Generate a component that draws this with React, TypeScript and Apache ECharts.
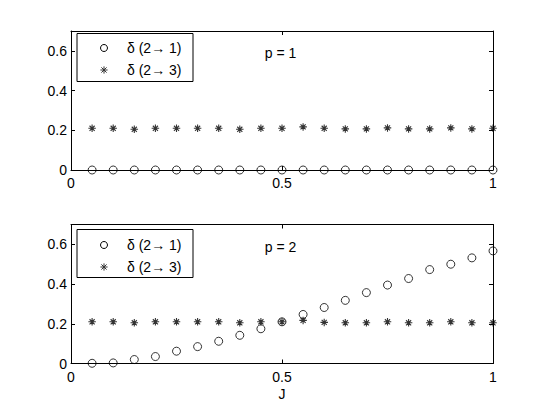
import React, { useEffect, useRef } from "react";
import * as echarts from "echarts";

const J = [0.05, 0.1, 0.15, 0.2, 0.25, 0.3, 0.35, 0.4, 0.45, 0.5, 0.55, 0.6, 0.65, 0.7, 0.75, 0.8, 0.85, 0.9, 0.95, 1.0];

const p1_21 = [0, 0, 0, 0, 0, 0, 0, 0, 0, 0, 0, 0, 0, 0, 0, 0, 0, 0, 0, 0];
const p1_23 = [0.21, 0.21, 0.205, 0.21, 0.21, 0.21, 0.21, 0.205, 0.21, 0.21, 0.217, 0.21, 0.207, 0.207, 0.212, 0.207, 0.207, 0.212, 0.207, 0.21];

const p2_21 = [0.001, 0.003, 0.02, 0.035, 0.062, 0.085, 0.112, 0.142, 0.175, 0.21, 0.247, 0.282, 0.318, 0.357, 0.395, 0.428, 0.473, 0.5, 0.532, 0.567];
const p2_23 = [0.21, 0.21, 0.205, 0.21, 0.21, 0.21, 0.21, 0.205, 0.21, 0.21, 0.217, 0.207, 0.205, 0.205, 0.21, 0.205, 0.205, 0.21, 0.205, 0.205];

const NAME_21 = "δ (2→ 1)";
const NAME_23 = "δ (2→ 3)";
const PANEL_LABELS = ["p = 1", "p = 2"];

const FONT = "'Liberation Sans', Arial, Helvetica, sans-serif";
const FS = 14;
const STAR = "path://M5,0L5,10M0,5L10,5M1.6,1.6L8.4,8.4M1.6,8.4L8.4,1.6";

function legendGraphic(top: number, rows: [number, number]) {
  const r = 3.5;
  const d = 3.6;
  const dd = 2.6;
  const starColor = "#333";
  return {
    type: "group",
    children: [
      {
        type: "rect",
        shape: { x: 77, y: top, width: 116, height: 48 },
        style: { fill: "#fff", stroke: "#000", lineWidth: 1 },
        z: 10,
      },
      {
        type: "circle",
        shape: { cx: 104, cy: rows[0], r },
        style: { fill: "none", stroke: "#000", lineWidth: 1 },
        z: 11,
      },
      { type: "line", shape: { x1: 104 - d, y1: rows[1], x2: 104 + d, y2: rows[1] }, style: { stroke: starColor, lineWidth: 1 }, z: 11 },
      { type: "line", shape: { x1: 104, y1: rows[1] - d, x2: 104, y2: rows[1] + d }, style: { stroke: starColor, lineWidth: 1 }, z: 11 },
      { type: "line", shape: { x1: 104 - dd, y1: rows[1] - dd, x2: 104 + dd, y2: rows[1] + dd }, style: { stroke: starColor, lineWidth: 1 }, z: 11 },
      { type: "line", shape: { x1: 104 - dd, y1: rows[1] + dd, x2: 104 + dd, y2: rows[1] - dd }, style: { stroke: starColor, lineWidth: 1 }, z: 11 },
      {
        type: "text",
        x: 127,
        y: rows[0],
        style: { text: NAME_21, fill: "#000", fontSize: FS, fontFamily: FONT, verticalAlign: "middle" },
        z: 11,
      },
      {
        type: "text",
        x: 127,
        y: rows[1],
        style: { text: NAME_23, fill: "#000", fontSize: FS, fontFamily: FONT, verticalAlign: "middle" },
        z: 11,
      },
    ],
  };
}

export default function App() {
  const ref = useRef<HTMLDivElement>(null);
  useEffect(() => {
    if (!ref.current) return;
    const chart = echarts.init(ref.current, null, { renderer: "svg" });

    const grids = [
      { left: 71, top: 31, width: 422, height: 139 },
      { left: 71, top: 224.5, width: 422, height: 139 },
    ];

    const xAxes: any[] = [];
    const yAxes: any[] = [];
    grids.forEach((_, gi) => {
      const base = {
        type: "value",
        gridIndex: gi,
        min: 0,
        max: 1,
        interval: 0.5,
        splitLine: { show: false },
        axisLine: { show: true, onZero: false, lineStyle: { color: "#000", width: 1 } },
        axisTick: { show: true, inside: true, length: 4, lineStyle: { color: "#000" } },
      };
      xAxes.push({
        ...base,
        position: "bottom",
        axisLabel: { show: true, margin: 6, color: "#000", fontSize: FS, fontFamily: FONT },
        name: gi === 1 ? "J" : "",
        nameLocation: "middle",
        nameGap: 23,
        nameTextStyle: { color: "#000", fontSize: FS, fontFamily: FONT },
      });
      xAxes.push({ ...base, position: "top", axisLabel: { show: false } });
      const ybase = {
        type: "value",
        gridIndex: gi,
        min: 0,
        max: 0.7,
        interval: 0.2,
        splitLine: { show: false },
        axisLine: { show: true, onZero: false, lineStyle: { color: "#000", width: 1 } },
        axisTick: { show: true, inside: true, length: 4, lineStyle: { color: "#000" } },
      };
      yAxes.push({
        ...ybase,
        position: "left",
        axisLabel: {
          show: true,
          margin: 4,
          color: "#000",
          fontSize: FS,
          fontFamily: FONT,
          showMaxLabel: false,
          formatter: (v: number) => (v > 0.65 ? "" : String(Math.round(v * 10) / 10)),
        },
      });
      yAxes.push({ ...ybase, position: "right", axisLabel: { show: false } });
    });

    const circleStyle = { color: "rgba(0,0,0,0)", borderColor: "#000", borderWidth: 1 };
    const starStyle = { color: "rgba(0,0,0,0)", borderColor: "#000", borderWidth: 1.1 };

    const mk = (name: string, vals: number[], gi: number, star: boolean) => ({
      type: "scatter",
      name,
      xAxisIndex: gi * 2,
      yAxisIndex: gi * 2,
      clip: false,
      symbol: star ? STAR : "circle",
      symbolSize: star ? 7.5 : 8,
      itemStyle: star ? starStyle : circleStyle,
      emphasis: { disabled: true },
      data: J.map((x, i) => [x, vals[i]]),
      z: star ? 3 : 4,
    });

    chart.setOption({
      animation: false,
      backgroundColor: "#fff",
      grid: grids,
      xAxis: xAxes,
      yAxis: yAxes,
      graphic: [
        legendGraphic(33.5, [48, 70]),
        legendGraphic(229.5, [245, 267]),
        {
          type: "text",
          x: 280.5,
          y: 53,
          style: { text: PANEL_LABELS[0], fill: "#000", fontSize: FS, fontFamily: FONT, align: "center", verticalAlign: "middle" },
        },
        {
          type: "text",
          x: 280.5,
          y: 247,
          style: { text: PANEL_LABELS[1], fill: "#000", fontSize: FS, fontFamily: FONT, align: "center", verticalAlign: "middle" },
        },
      ],
      series: [
        mk(NAME_21, p1_21, 0, false),
        mk(NAME_23, p1_23, 0, true),
        mk(NAME_21, p2_21, 1, false),
        mk(NAME_23, p2_23, 1, true),
      ],
    });
    return () => chart.dispose();
  }, []);
  return <div ref={ref} style={{ position: "fixed", left: 0, top: 0, width: 545, height: 410 }} />;
}
